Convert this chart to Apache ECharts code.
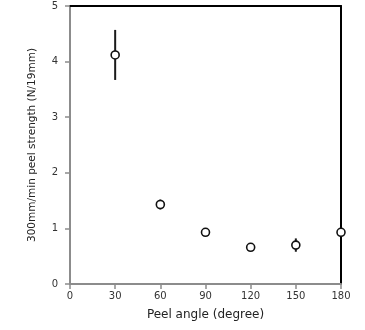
<!DOCTYPE html>
<html>
<head>
<meta charset="utf-8">
<script src="https://cdn.jsdelivr.net/npm/echarts@6/dist/echarts.min.js"></script>
<style>html,body{margin:0;padding:0;background:#fff;}#c{width:365px;height:330px;}</style>
</head>
<body>
<div id="c"></div>
<script>
var angles = [30, 60, 90, 120, 150, 180];
var means = [4.12, 1.43, 0.93, 0.66, 0.70, 0.93];
var errs = [0.45, 0.09, 0.04, 0.04, 0.12, 0.04];
var xTicks = [0, 30, 60, 90, 120, 150, 180];
var yTicks = [0, 1, 2, 3, 4, 5];
var xName = 'Peel angle (degree)';
var yName = '300mm/min peel strength (N/19mm)';

var pts = angles.map(function (a, i) { return [a, means[i]]; });
var bars = angles.map(function (a, i) { return [a, means[i] - errs[i], means[i] + errs[i]]; });

var font = 'DejaVu Sans';
var chart = echarts.init(document.getElementById('c'), null, {renderer: 'canvas'});
chart.setOption({
  animation: false,
  grid: {left: 70, right: 24, top: 6, bottom: 46},
  xAxis: [{
    type: 'value', min: xTicks[0], max: xTicks[xTicks.length - 1], interval: 30,
    name: xName, nameLocation: 'middle', nameGap: 25,
    nameTextStyle: {fontFamily: font, fontSize: 12, color: '#222'},
    axisLine: {show: true, onZero: false, lineStyle: {color: '#8c8c8c', width: 2}},
    axisTick: {show: true, length: 5, lineStyle: {color: '#8c8c8c', width: 1.5}},
    axisLabel: {fontFamily: font, fontSize: 10, color: '#333', margin: 7},
    splitLine: {show: false}
  }, {
    type: 'value', position: 'top', min: xTicks[0], max: xTicks[xTicks.length - 1],
    axisLine: {show: true, onZero: false, lineStyle: {color: '#000', width: 2}},
    axisTick: {show: false}, axisLabel: {show: false}, splitLine: {show: false}
  }],
  yAxis: [{
    type: 'value', min: yTicks[0], max: yTicks[yTicks.length - 1], interval: 1,
    name: yName, nameLocation: 'middle', nameGap: 32, nameRotate: 90,
    nameTextStyle: {fontFamily: font, fontSize: 10.5, color: '#222'},
    axisLine: {show: true, onZero: false, lineStyle: {color: '#8c8c8c', width: 2}},
    axisTick: {show: true, length: 5, lineStyle: {color: '#8c8c8c', width: 1.5}},
    axisLabel: {fontFamily: font, fontSize: 10, color: '#333', margin: 12, padding: [7, 0, 0, 0]},
    splitLine: {show: false}
  }, {
    type: 'value', position: 'right', min: yTicks[0], max: yTicks[yTicks.length - 1],
    axisLine: {show: true, onZero: false, lineStyle: {color: '#000', width: 2}},
    axisTick: {show: false}, axisLabel: {show: false}, splitLine: {show: false}
  }],
  series: [{
    type: 'custom',
    data: bars,
    z: 3,
    renderItem: function (params, api) {
      var x = api.value(0);
      var p1 = api.coord([x, api.value(1)]);
      var p2 = api.coord([x, api.value(2)]);
      return {
        type: 'line',
        shape: {x1: p1[0], y1: p1[1], x2: p2[0], y2: p2[1]},
        style: {stroke: '#1a1a1a', lineWidth: 2}
      };
    },
    encode: {x: 0, y: [1, 2]}
  }, {
    type: 'scatter',
    data: pts,
    z: 5,
    clip: false,
    symbol: 'circle',
    symbolSize: 8,
    itemStyle: {color: '#fff', borderColor: '#111', borderWidth: 1.6, opacity: 1}
  }]
});
</script>
</body>
</html>
